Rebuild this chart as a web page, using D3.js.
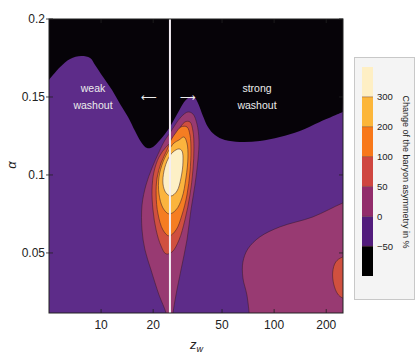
<!DOCTYPE html>
<html>
<head>
<meta charset="utf-8">
<script src="https://cdn.jsdelivr.net/npm/d3@7"></script>
<style>
  body { margin: 0; background: #fff; }
  svg { display: block; font-family: "Liberation Sans", Arial, sans-serif; }
</style>
</head>
<body>
<svg id="chart" width="415" height="357"></svg>
<script>
// axes
const zTicks = [10, 20, 50, 100, 200];
const alphaTicks = [0.05, 0.1, 0.15, 0.2];
const zWall = 25;

// contour levels (change of baryon asymmetry in %)
const levels = [-50, 0, 50, 100, 200, 300];
const barColors = ["#000000", "#521c7c", "#922c6b", "#cf4640", "#f8781a", "#fcb63a", "#feefc4"];
const plotColors = ["#060308", "#5d2c89", "#983a72", "#d0503f", "#f57d22", "#fbb43e", "#fdf0c6"];

// boundary of the region below -50 % (black), left to right, [z_w, alpha]
const blackEdge = [
  [5.0, 0.161], [5.8, 0.1692], [6.62, 0.1744], [7.67, 0.1763], [8.64, 0.175], [9.23, 0.1705],
  [10.27, 0.1628], [11.57, 0.1545], [12.87, 0.1455], [14.31, 0.1372], [15.71, 0.1282],
  [17.02, 0.1212], [18.43, 0.1173], [19.95, 0.118], [21.9, 0.1224], [23.4, 0.1263],
  [25.0, 0.1308], [26.73, 0.1365], [28.57, 0.1423], [30.52, 0.1474], [32.63, 0.150],
  [34.4, 0.150], [36.28, 0.1462], [38.78, 0.1378], [41.45, 0.1308], [45.48, 0.1256],
  [51.94, 0.1224], [63.4, 0.1212], [82.7, 0.1218], [107.9, 0.1244], [140.7, 0.1282],
  [183.5, 0.134], [249, 0.1404]
];

// ridge around z_w ~ 25, closed outlines
const ridge0 = [
  [25.0, 0.1269], [26.73, 0.132], [28.95, 0.1372], [31.77, 0.1404], [33.95, 0.1391],
  [35.81, 0.1327], [36.77, 0.1224], [36.28, 0.1096], [34.86, 0.0936], [33.06, 0.0776],
  [31.35, 0.0583], [28.95, 0.0391], [27.09, 0.0231], [26.03, 0.0115], [25.6, 0.004],
  [24.2, 0.004], [23.72, 0.0115], [21.61, 0.0231], [19.43, 0.0391], [17.94, 0.0519],
  [17.24, 0.0647], [17.24, 0.0808], [18.18, 0.0936], [19.69, 0.1045], [21.61, 0.1147],
  [23.4, 0.1224]
];
const ridge50 = [
  [25.69, 0.1218], [27.82, 0.1282], [30.52, 0.134], [32.63, 0.134], [33.95, 0.1282],
  [34.4, 0.1173], [33.95, 0.1032], [32.63, 0.0872], [30.52, 0.0712], [28.2, 0.0583],
  [25.69, 0.0506], [23.72, 0.0494], [22.2, 0.0545], [20.8, 0.0647], [19.95, 0.0776],
  [19.69, 0.0904], [20.2, 0.1019], [21.61, 0.1115], [23.72, 0.1179]
];
const ridge100 = [
  [26.73, 0.1263], [28.95, 0.1308], [31.35, 0.1308], [32.63, 0.1256], [33.06, 0.116],
  [32.63, 0.1019], [31.35, 0.0872], [29.34, 0.0744], [27.09, 0.0647], [24.69, 0.0609],
  [22.79, 0.0647], [21.33, 0.075], [20.8, 0.0872], [21.06, 0.0981], [22.2, 0.1077],
  [24.03, 0.116], [25.35, 0.1224]
];
const ridge200 = [
  [28.19, 0.1224], [30.13, 0.1244], [31.35, 0.1205], [31.77, 0.1115], [30.93, 0.0981],
  [29.34, 0.0853], [27.09, 0.0776], [24.69, 0.075], [22.79, 0.0788], [21.61, 0.0878],
  [21.61, 0.0987], [22.79, 0.1083], [24.69, 0.116], [26.38, 0.1205]
];
const ridge300 = [
  [28.19, 0.1167], [29.34, 0.1154], [29.73, 0.1083], [28.95, 0.0981], [27.45, 0.0897],
  [25.35, 0.0865], [23.72, 0.0885], [22.79, 0.0942], [23.1, 0.1026], [24.36, 0.1102],
  [26.03, 0.1147]
];

// strong washout corner, open outlines running out of the frame
const corner0 = [
  [312, 0.0859], [249, 0.082], [167.2, 0.0731], [107.9, 0.0667], [82.7, 0.0603],
  [70.5, 0.0526], [66.0, 0.0442], [66.0, 0.034], [69.6, 0.0231], [72.4, 0.007]
];
const corner50 = [
  [312, 0.0487], [249, 0.0474], [227, 0.0442], [218, 0.0378], [221, 0.03],
  [233, 0.0237], [249, 0.0211], [312, 0.02]
];

const svg = d3.select("#chart");
const m = { left: 49, right: 343, top: 19, bottom: 313 };

const x = d3.scaleLog().domain([5, 250]).range([m.left, m.right]);
const y = d3.scaleLinear().domain([0.0115, 0.2]).range([m.bottom, m.top]);

svg.append("clipPath").attr("id", "plotClip")
  .append("rect")
  .attr("x", m.left).attr("y", m.top)
  .attr("width", m.right - m.left).attr("height", m.bottom - m.top);

const plot = svg.append("g").attr("clip-path", "url(#plotClip)");

const closed = d3.line().x(d => x(d[0])).y(d => y(d[1])).curve(d3.curveCatmullRomClosed);
const open = d3.line().x(d => x(d[0])).y(d => y(d[1])).curve(d3.curveCatmullRom);

// base level: -50 .. 0
plot.append("rect")
  .attr("x", m.left).attr("y", m.top)
  .attr("width", m.right - m.left).attr("height", m.bottom - m.top)
  .attr("fill", plotColors[1]);

// below -50
plot.append("path")
  .attr("d", open(blackEdge) + `L${x(260)},${y(0.21)}L${x(4.8)},${y(0.21)}Z`)
  .attr("fill", plotColors[0]);

const lineStyle = sel => sel
  .attr("stroke", "#3a1a26")
  .attr("stroke-opacity", 0.75)
  .attr("stroke-width", 0.7);

plot.append("path")
  .attr("d", open(corner0) + `L${x(312)},${y(0.007)}Z`)
  .attr("fill", plotColors[2]).call(lineStyle);
plot.append("path")
  .attr("d", open(corner50) + "Z")
  .attr("fill", plotColors[3]).call(lineStyle);

[ridge0, ridge50, ridge100, ridge200, ridge300].forEach((r, i) => {
  plot.append("path")
    .attr("d", closed(r))
    .attr("fill", plotColors[i + 2])
    .call(lineStyle);
});

// z_w marker line
plot.append("line")
  .attr("x1", x(zWall)).attr("x2", x(zWall))
  .attr("y1", m.top).attr("y2", m.bottom)
  .attr("stroke", "#f4eef4").attr("stroke-width", 2);

// annotations
const ann = svg.append("g").attr("fill", "#ececec").attr("font-size", 10.5).attr("text-anchor", "middle");
ann.append("text").attr("x", 93).attr("y", 92).text("weak");
ann.append("text").attr("x", 93).attr("y", 109).text("washout");
ann.append("text").attr("x", 257).attr("y", 92).text("strong");
ann.append("text").attr("x", 257).attr("y", 109).text("washout");
ann.append("text").attr("x", x(zWall) - 21).attr("y", 101)
  .attr("font-family", "DejaVu Sans").attr("font-size", 11).text("\u27F5");
ann.append("text").attr("x", x(zWall) + 18).attr("y", 101)
  .attr("font-family", "DejaVu Sans").attr("font-size", 11).text("\u27F6");

// frame and ticks
svg.append("rect")
  .attr("x", m.left).attr("y", m.top)
  .attr("width", m.right - m.left).attr("height", m.bottom - m.top)
  .attr("fill", "none").attr("stroke", "#222").attr("stroke-width", 1);

const ticks = svg.append("g").attr("stroke", "#222").attr("stroke-width", 0.8);
zTicks.forEach(t => {
  ticks.append("line").attr("x1", x(t)).attr("x2", x(t)).attr("y1", m.bottom).attr("y2", m.bottom - 4);
  ticks.append("line").attr("x1", x(t)).attr("x2", x(t)).attr("y1", m.top).attr("y2", m.top + 4);
});
alphaTicks.forEach(t => {
  ticks.append("line").attr("x1", m.left - 3).attr("x2", m.left + 4).attr("y1", y(t)).attr("y2", y(t));
  ticks.append("line").attr("x1", m.right).attr("x2", m.right - 4).attr("y1", y(t)).attr("y2", y(t));
});

const labels = svg.append("g").attr("fill", "#222").attr("font-size", 12);
labels.selectAll(".zt").data(zTicks).enter().append("text")
  .attr("x", d => x(d)).attr("y", 329).attr("text-anchor", "middle").text(d => d);
labels.selectAll(".at").data(alphaTicks).enter().append("text")
  .attr("x", 45).attr("y", d => y(d) + 4).attr("text-anchor", "end").text(d => d);

labels.append("text")
  .attr("transform", "translate(16,165) rotate(-90)")
  .attr("text-anchor", "middle").attr("font-style", "italic").attr("font-size", 13)
  .text("α");

const zl = labels.append("text").attr("x", 190).attr("y", 349).attr("font-size", 13);
zl.append("tspan").attr("font-style", "italic").text("z");
zl.append("tspan").attr("font-style", "italic").attr("font-size", 9).attr("dy", 3).text("w");

// colour bar legend
const legend = svg.append("g");
legend.append("rect")
  .attr("x", 354.5).attr("y", 57.5).attr("width", 60).attr("height", 242)
  .attr("fill", "#f4f4f4").attr("stroke", "#c8c8c8");

const bar = d3.scaleLinear().domain([0, barColors.length]).range([276, 67]);
legend.selectAll(".seg").data(barColors).enter().append("rect")
  .attr("x", 362).attr("width", 11)
  .attr("y", (d, i) => bar(i + 1))
  .attr("height", (d, i) => bar(i) - bar(i + 1))
  .attr("fill", d => d);

legend.selectAll(".sep").data(levels).enter().append("line")
  .attr("x1", 362).attr("x2", 373)
  .attr("y1", (d, i) => bar(i + 1)).attr("y2", (d, i) => bar(i + 1))
  .attr("stroke", "#5a2a20").attr("stroke-opacity", 0.6).attr("stroke-width", 0.7);

legend.selectAll(".lab").data(levels).enter().append("text")
  .attr("x", 377).attr("y", (d, i) => bar(i + 1) + 3.5)
  .attr("font-size", 9.5).attr("fill", "#222")
  .text(d => d < 0 ? "\u2212" + Math.abs(d) : d);

legend.append("text")
  .attr("transform", "translate(403,172) rotate(90)")
  .attr("text-anchor", "middle").attr("font-size", 9).attr("fill", "#222")
  .text("Change of the baryon asymmetry in %");
</script>
</body>
</html>
